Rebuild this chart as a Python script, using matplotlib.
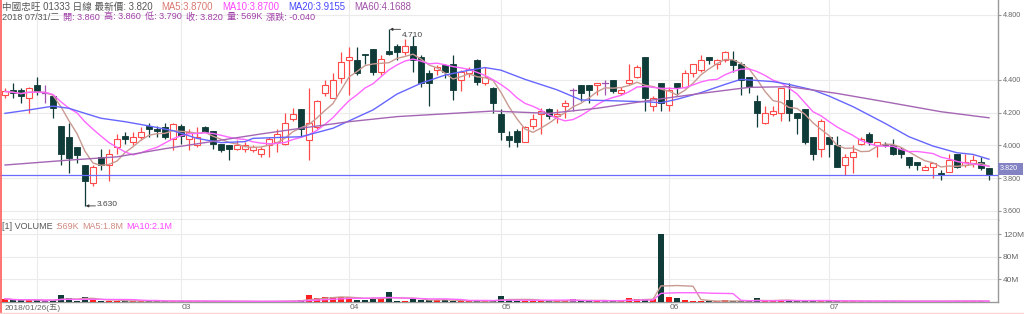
import matplotlib
matplotlib.use('Agg')
import matplotlib.pyplot as plt
import numpy as np
import pandas as pd
from matplotlib.patches import Rectangle
from matplotlib.lines import Line2D

# ---------------- data ----------------
opens = [4.31, 4.34, 4.34, 4.29, 4.37, 4.32, 4.30, 4.12, 4.05, 3.99,
         3.88, 3.77, 3.93, 3.88, 3.99, 4.06, 4.02, 4.05, 4.12, 4.10,
         4.11, 4.04, 4.12, 4.04, 4.00, 4.11, 4.09, 4.01, 4.00, 3.98,
         3.98, 3.97, 3.95, 4.00, 4.02, 4.01, 4.16, 4.22, 4.03, 4.11,
         4.32, 4.29, 4.41, 4.52, 4.52, 4.56, 4.59, 4.45, 4.58, 4.61,
         4.57, 4.61, 4.54, 4.44, 4.46, 4.49, 4.50, 4.40, 4.44, 4.52,
         4.38, 4.35, 4.19, 4.06, 4.09, 4.02, 4.12, 4.19, 4.22, 4.18,
         4.24, 4.34, 4.37, 4.37, 4.37, 4.38, 4.40, 4.32, 4.38, 4.42,
         4.54, 4.24, 4.38, 4.25, 4.38, 4.36, 4.44, 4.46, 4.54, 4.50,
         4.52, 4.52, 4.50, 4.42, 4.27, 4.14, 4.19, 4.20, 4.28, 4.20,
         4.22, 4.05, 3.98, 4.05, 4.00, 3.88, 3.93, 4.01, 4.07, 4.00,
         4.01, 4.00, 3.98, 3.93, 3.90, 3.85, 3.87, 3.83, 3.84, 3.95,
         3.88, 3.89, 3.90, 3.86]
highs = [4.35, 4.38, 4.35, 4.36, 4.42, 4.37, 4.30, 4.12, 4.14, 3.99,
         3.88, 3.88, 3.98, 3.98, 4.07, 4.08, 4.08, 4.11, 4.14, 4.12,
         4.14, 4.14, 4.13, 4.10, 4.11, 4.12, 4.09, 4.01, 4.00, 4.03,
         4.02, 4.00, 3.99, 4.05, 4.10, 4.20, 4.23, 4.22, 4.35, 4.28,
         4.40, 4.44, 4.57, 4.60, 4.60, 4.56, 4.59, 4.55, 4.71, 4.62,
         4.65, 4.67, 4.55, 4.46, 4.49, 4.50, 4.55, 4.46, 4.48, 4.53,
         4.48, 4.36, 4.22, 4.09, 4.10, 4.12, 4.19, 4.23, 4.23, 4.22,
         4.28, 4.35, 4.37, 4.37, 4.38, 4.40, 4.40, 4.36, 4.50, 4.49,
         4.54, 4.30, 4.38, 4.36, 4.38, 4.46, 4.50, 4.55, 4.54, 4.53,
         4.58, 4.58, 4.51, 4.42, 4.31, 4.24, 4.24, 4.35, 4.38, 4.20,
         4.22, 4.05, 4.16, 4.06, 4.06, 3.95, 4.00, 4.05, 4.08, 4.02,
         4.02, 4.04, 3.99, 3.93, 3.90, 3.88, 3.89, 3.85, 3.95, 3.95,
         3.95, 3.94, 3.93, 3.86]
lows = [4.29, 4.29, 4.26, 4.20, 4.31, 4.26, 4.17, 3.88, 3.83, 3.89,
        3.63, 3.75, 3.85, 3.78, 3.95, 4.01, 4.00, 4.03, 4.05, 4.05,
        4.04, 3.97, 4.01, 3.97, 3.99, 4.08, 3.98, 3.96, 3.91, 3.97,
        3.96, 3.96, 3.93, 3.93, 3.96, 4.00, 4.15, 4.05, 3.91, 4.10,
        4.30, 4.29, 4.38, 4.31, 4.43, 4.50, 4.43, 4.43, 4.55, 4.52,
        4.55, 4.45, 4.36, 4.24, 4.43, 4.41, 4.28, 4.33, 4.42, 4.37,
        4.37, 4.20, 4.03, 3.99, 3.99, 4.02, 4.10, 4.07, 4.16, 4.14,
        4.17, 4.21, 4.27, 4.26, 4.31, 4.31, 4.32, 4.31, 4.37, 4.41,
        4.21, 4.21, 4.21, 4.21, 4.31, 4.35, 4.42, 4.45, 4.50, 4.47,
        4.51, 4.45, 4.31, 4.32, 4.11, 4.13, 4.18, 4.15, 4.15, 4.07,
        4.01, 3.91, 3.93, 3.93, 3.87, 3.82, 3.83, 4.00, 4.00, 3.93,
        3.99, 3.94, 3.92, 3.86, 3.85, 3.85, 3.80, 3.79, 3.84, 3.86,
        3.87, 3.87, 3.85, 3.79]
closes = [4.33, 4.32, 4.30, 4.35, 4.33, 4.32, 4.23, 3.95, 3.92, 3.94,
          3.78, 3.87, 3.88, 3.95, 4.04, 4.04, 4.05, 4.08, 4.10, 4.09,
          4.05, 4.13, 4.06, 4.08, 4.05, 4.08, 4.01, 3.97, 3.98, 4.00,
          4.00, 3.99, 3.98, 4.04, 4.07, 4.14, 4.19, 4.10, 4.14, 4.27,
          4.37, 4.40, 4.51, 4.54, 4.44, 4.55, 4.45, 4.53, 4.56, 4.57,
          4.61, 4.52, 4.38, 4.38, 4.48, 4.45, 4.34, 4.45, 4.47, 4.39,
          4.42, 4.26, 4.08, 4.03, 4.02, 4.11, 4.16, 4.21, 4.18, 4.19,
          4.26, 4.34, 4.32, 4.34, 4.38, 4.38, 4.33, 4.34, 4.40, 4.48,
          4.29, 4.29, 4.26, 4.34, 4.36, 4.44, 4.50, 4.52, 4.52, 4.52,
          4.57, 4.49, 4.40, 4.36, 4.20, 4.20, 4.21, 4.35, 4.20, 4.17,
          4.02, 3.95, 4.15, 4.01, 3.87, 3.93, 3.96, 4.04, 4.02, 4.02,
          4.00, 3.95, 3.95, 3.88, 3.88, 3.87, 3.89, 3.82, 3.91, 3.87,
          3.90, 3.91, 3.86, 3.82]
volumes_m = [5.7, 3.0, 3.0, 4.0, 3.0, 2.0, 3.0, 11.5, 7.5, 1.7,
             8.7, 3.0, 2.5, 2.0, 2.0, 1.5, 2.0, 2.0, 1.5, 1.5,
             1.5, 2.0, 1.5, 1.5, 1.5, 1.0, 1.5, 1.5, 1.0, 1.0,
             1.0, 1.0, 1.0, 1.5, 1.5, 2.0, 2.5, 3.0, 11.5, 7.5,
             8.5, 8.5, 8.5, 9.6, 3.0, 3.0, 7.5, 7.5, 17.0, 1.5,
             1.5, 5.7, 4.0, 4.0, 3.0, 3.0, 2.0, 2.0, 1.5, 1.5,
             1.5, 3.0, 10.0, 6.0, 2.0, 2.0, 2.0, 2.0, 2.0, 2.0,
             2.0, 5.7, 2.0, 2.0, 2.0, 2.0, 2.0, 2.0, 7.5, 4.5,
             5.7, 4.5, 120.0, 8.5, 6.8, 2.8, 1.5, 1.5, 1.0, 1.0,
             4.0, 1.5, 1.5, 1.5, 6.8, 1.5, 1.5, 4.0, 2.0, 2.0,
             2.0, 2.0, 2.0, 2.0, 1.5, 1.5, 1.5, 1.5, 1.5, 1.5,
             1.5, 1.5, 1.5, 1.5, 1.5, 1.5, 1.5, 1.5, 1.5, 2.0,
             2.0, 1.5, 1.5, 0.569]
ma20_idx = [0, 3, 6, 8, 10, 12, 15, 18, 21, 24, 27, 30, 31, 37, 41, 46, 49,
            52, 55, 58, 60, 62, 65, 69, 72, 76, 80, 82, 84, 87, 90, 92, 96,
            98, 101, 103, 106, 110, 113, 116, 119, 121, 123]
ma20_val = [4.196, 4.217, 4.24, 4.227, 4.196, 4.166, 4.145, 4.119, 4.09,
            4.043, 4.017, 4.023, 4.043, 4.053, 4.105, 4.217, 4.314, 4.38,
            4.43, 4.46, 4.476, 4.46, 4.404, 4.34, 4.278, 4.273, 4.267,
            4.261, 4.282, 4.323, 4.373, 4.404, 4.39, 4.373, 4.339, 4.302,
            4.237, 4.135, 4.053, 3.996, 3.955, 3.945, 3.9155]
ma60_idx = [0, 8, 14, 20, 25, 32, 37, 43, 49, 56, 61, 68, 74, 81, 87, 93,
            98, 104, 110, 117, 123]
ma60_val = [3.88, 3.91, 3.93, 3.98, 4.017, 4.07, 4.105, 4.145, 4.176, 4.196,
            4.21, 4.196, 4.227, 4.278, 4.318, 4.355, 4.359, 4.318, 4.267,
            4.206, 4.1688]
month_idx = [4, 22, 43, 62, 83, 103]
month_labels = ['', '03', '04', '05', '06', '07']
first_label = '2018/01/26(五)'
price_ticks = [3.6, 3.8, 4.0, 4.2, 4.4, 4.8]
vol_ticks = [40, 80, 120]
high_idx, high_val = 48, 4.71
low_idx, low_val = 10, 3.63
last_price = 3.82

# ---------------- style ----------------
plt.rcParams['font.family'] = ['Liberation Sans', 'Noto Sans CJK TC', 'DejaVu Sans']
UP = '#ff4a4a'
UPV = '#ff1f1f'
DN = '#0f3b38'
DOJI = '#a050b0'
C_MA5 = '#c99a92'
C_MA10 = '#ff66ff'
C_MA20 = '#6666ff'
C_MA60 = '#a466b4'
GRID = '#ebebeb'
AX = '#999999'
TXT = '#666666'
FS = 6

W, H = 1024, 314
fig = plt.figure(figsize=(W / 100, H / 100), dpi=100)
fig.patch.set_facecolor('white')


def fy(py):
    return 1 - py / H


ax = fig.add_axes([0, fy(220), 998 / W, 220 / H])
axv = fig.add_axes([0, fy(302), 998 / W, 82 / H])

n = len(closes)
idx = np.arange(n)
x_lo, x_hi = -0.625, 124.125
bw = 0.64

o = np.array(opens); h = np.array(highs); l = np.array(lows); c = np.array(closes)
for i in range(n):
    if c[i] > o[i]:
        col = UP
    elif c[i] < o[i]:
        col = DN
    else:
        col = DOJI
    ax.add_line(Line2D([i, i], [l[i], h[i]], color=col, lw=0.9, zorder=2,
                       solid_capstyle='butt'))
    if c[i] > o[i]:
        ax.add_patch(Rectangle((i - bw / 2, o[i]), bw, c[i] - o[i],
                               facecolor='white', edgecolor=UP, lw=0.8, zorder=3))
    elif c[i] < o[i]:
        ax.add_patch(Rectangle((i - bw / 2, c[i]), bw, o[i] - c[i],
                               facecolor=DN, edgecolor=DN, lw=0.6, zorder=3))
    else:
        ax.add_line(Line2D([i - bw / 2, i + bw / 2], [c[i], c[i]], color=col,
                           lw=0.9, zorder=3))

cs = pd.Series(closes)
ma5 = cs.rolling(5, min_periods=1).mean()
ma10 = cs.rolling(10, min_periods=1).mean()
ax.plot(idx, ma5, color=C_MA5, lw=1.0, zorder=4)
ax.plot(idx, ma10, color=C_MA10, lw=1.0, zorder=4)
ax.plot(ma20_idx, ma20_val, color=C_MA20, lw=1.0, zorder=4)
ax.plot(ma60_idx, ma60_val, color=C_MA60, lw=1.0, zorder=4)

ax.axhline(last_price, color='#6a6aff', lw=0.9, zorder=5)

# high/low annotations
ax.annotate('', xy=(high_idx + 0.1, high_val), xytext=(high_idx + 1.45, high_val),
            arrowprops=dict(arrowstyle='-|>', color='#333333', lw=0.6,
                            mutation_scale=4, shrinkA=0, shrinkB=0), zorder=6)
ax.annotate('%.3f' % high_val, xy=(high_idx + 1.55, high_val), xytext=(0, -4.5),
            textcoords='offset points', fontsize=FS, color='#444444',
            va='center', ha='left', zorder=6)
ax.annotate('', xy=(low_idx + 0.1, low_val), xytext=(low_idx + 1.3, low_val),
            arrowprops=dict(arrowstyle='-|>', color='#333333', lw=0.6,
                            mutation_scale=4, shrinkA=0, shrinkB=0), zorder=6)
ax.annotate('%.3f' % low_val, xy=(low_idx + 1.4, low_val), xytext=(0, 1),
            textcoords='offset points', fontsize=FS, color='#444444',
            va='center', ha='left', zorder=6)

ax.set_xlim(x_lo, x_hi)
ax.set_ylim(4.4 - 140 / 163.5, 4.4 + 80 / 163.5)
ax.set_yticks(price_ticks)
ax.set_yticklabels(['%.3f' % v for v in price_ticks])

# volume
v = np.array(volumes_m)
vcols = [UPV if c[i] > o[i] else (DN if c[i] < o[i] else DOJI) for i in range(n)]
axv.bar(idx, v, width=bw, color=vcols, zorder=3, linewidth=0)
vs = pd.Series(volumes_m)
axv.plot(idx, vs.rolling(5, min_periods=1).mean(), color=C_MA5, lw=1.0, zorder=4)
axv.plot(idx, vs.rolling(10, min_periods=1).mean(), color=C_MA10, lw=1.0, zorder=4)
axv.set_xlim(x_lo, x_hi)
axv.set_ylim(0, 145)
axv.set_yticks(vol_ticks)
axv.set_yticklabels(['%dM' % t for t in vol_ticks])

for a, lsz in ((ax, 5.2), (axv, 6)):
    a.set_facecolor('white')
    a.yaxis.tick_right()
    a.tick_params(axis='y', direction='out', length=2.5, width=0.8, color=AX,
                  labelsize=lsz, labelcolor=TXT, pad=1)
    a.tick_params(axis='x', length=0, labelbottom=False)
    a.set_xticks(month_idx)
    a.grid(True, color=GRID, lw=0.8, zorder=0)
    a.set_axisbelow(True)
    for s in ('left', 'top'):
        a.spines[s].set_visible(False)
    for s in ('right', 'bottom'):
        a.spines[s].set_color(AX)
        a.spines[s].set_linewidth(1.0)

# x labels
fig.text(5 / W, fy(307.5), first_label, fontsize=FS, color=TXT, ha='left', va='center')
for mi, lab in zip(month_idx, month_labels):
    if lab:
        xpx = 5 + 8 * mi
        fig.text((xpx + 1) / W, fy(307.5), lab, fontsize=FS, color=TXT,
                 ha='left', va='center')

# last price tag
fig.add_artist(Rectangle((998 / W, fy(175)), 25 / W, 12 / H, facecolor='#8383c4',
                         edgecolor='none', transform=fig.transFigure, zorder=10))
fig.text(1000 / W, fy(169), '%.3f' % last_price, fontsize=5.2, color='white',
         ha='left', va='center', zorder=11)

# header text
renderer = fig.canvas.get_renderer()


def seq(x, y, parts, size, gap):
    for txt, col in parts:
        t = fig.text(x / W, fy(y), txt, color=col, fontsize=size, va='center', ha='left')
        bb = t.get_window_extent(renderer)
        x += bb.width + gap


PUR = '#a040a8'
seq(2, 6.5, [('中國忠旺 01333 日線 最新價: 3.820', '#555555'),
             ('MA5:3.8700', '#d87870'), ('MA10:3.8700', '#ff44ff'),
             ('MA20:3.9155', '#4848ff'), ('MA60:4.1688', '#a050a8')], 6.9, 9)
seq(2, 17, [('2018 07/31/二', '#555555'), ('開: 3.860', PUR), ('高: 3.860', PUR),
            ('低: 3.790', PUR), ('收: 3.820', PUR), ('量: 569K', PUR),
            ('漲跌: -0.040', PUR)], 6.6, 4)
seq(2, 226.5, [('[1] VOLUME', '#555555'), (':569K', '#d08a80'),
               ('MA5:1.8M', '#d08a80'), ('MA10:2.1M', '#ff44ff')], 6.5, 3)

# frame lines (left red edge, bottom pink edge)
fig.add_artist(Line2D([0.5 / W, 0.5 / W], [0, 1], color='#ff5a5a', lw=1.2))
fig.add_artist(Line2D([0, 1], [fy(313), fy(313)], color='#ffd0d0', lw=1.0))

fig.savefig('out.png', dpi=100, facecolor='white')
